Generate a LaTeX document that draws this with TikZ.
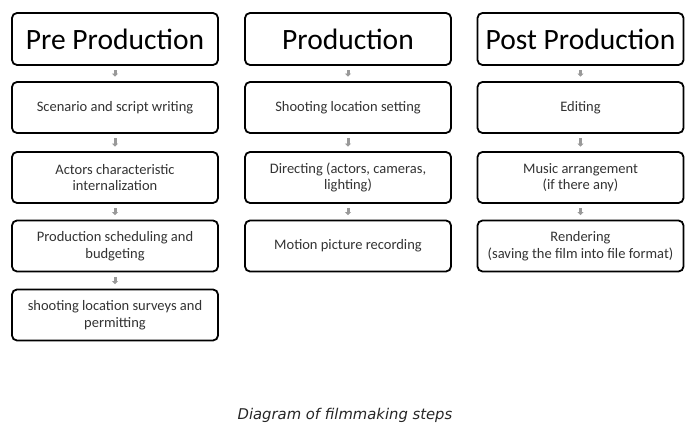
\documentclass[tikz,border=0pt]{standalone}
\usepackage{fontspec}
\setmainfont{Carlito}
\newfontfamily\capfont{DejaVu Sans}
\usetikzlibrary{arrows.meta}

\begin{document}
\begin{tikzpicture}[x=1pt,y=-1pt,
  step box/.style={draw=black,line width=1.8pt,rounded corners=5pt,fill=white,
    minimum width=206pt,minimum height=51pt,align=center,text=black!80,
    font=\fontsize{14.5}{16.5}\selectfont},
  head box/.style={step box,minimum height=52pt,text=black,
    font=\fontsize{29.5}{32}\selectfont},
  flow/.style={draw=black!40,line width=3pt,shorten >=4.5pt,shorten <=4.5pt,
    -{Triangle[width=6pt,length=3pt]}}]
\useasboundingbox (0,0) rectangle (699,427);

% pre production
\node[head box] (pre0) at (115,39) {Pre Production};
\node[step box] (pre1) at (115,107.5) {Scenario and script writing};
\node[step box] (pre2) at (115,177.5) {Actors characteristic\\internalization};
\node[step box] (pre3) at (115,246) {Production scheduling and\\budgeting};
\node[step box] (pre4) at (115,315) {shooting location surveys and\\permitting};

% production
\node[head box] (pro0) at (348,39) {Production};
\node[step box] (pro1) at (348,107.5) {Shooting location setting};
\node[step box] (pro2) at (348,177.5) {Directing (actors, cameras,\\lighting)};
\node[step box] (pro3) at (348,246) {Motion picture recording};

% post production
\node[head box] (post0) at (580.5,39) {Post Production};
\node[step box] (post1) at (580.5,107.5) {Editing};
\node[step box] (post2) at (580.5,177.5) {Music arrangement\\(if there any)};
\node[step box] (post3) at (580.5,246) {Rendering\\(saving the film into file format)};

\foreach \a/\b in {pre0/pre1,pre1/pre2,pre2/pre3,pre3/pre4,
                   pro0/pro1,pro1/pro2,pro2/pro3,
                   post0/post1,post1/post2,post2/post3}
  \draw[flow] (\a) -- (\b);

\node[font=\capfont\itshape\fontsize{14.8}{17}\selectfont,text=black!85] (cap) at (345,415) {Diagram of filmmaking steps};

\end{tikzpicture}
\end{document}
